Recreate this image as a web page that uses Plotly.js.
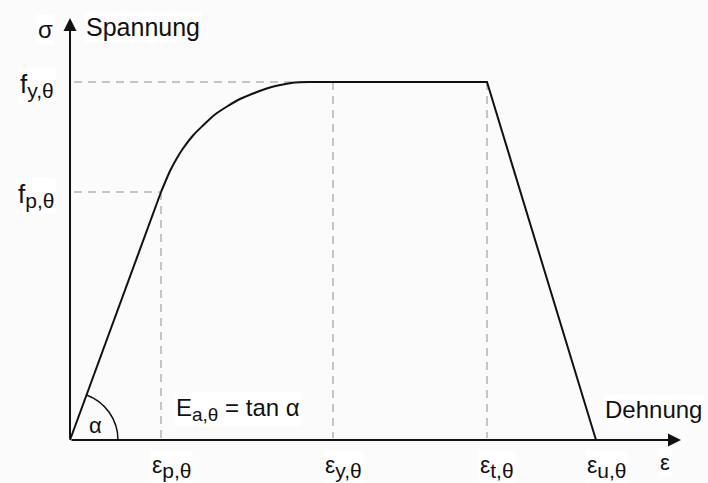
<!DOCTYPE html>
<html>
<head>
<meta charset="utf-8">
<script src="https://cdn.plot.ly/plotly-3.0.1.min.js"></script>
<style>html,body{margin:0;padding:0;background:#fbfbfb;}#chart{width:708px;height:483px;}</style>
</head>
<body>
<div id="chart"></div>
<script>
// ---- data (schematic units) ----
const strainNames  = ['εp', 'εy', 'εt', 'εu'];
const strainValues = [91, 263, 417, 526];          // ε_p,θ  ε_y,θ  ε_t,θ  ε_u,θ
const strainSubs   = ['p,θ', 'y,θ', 't,θ', 'u,θ'];
const stressValues = [248, 358];                   // f_p,θ  f_y,θ
const stressSubs   = ['p,θ', 'y,θ'];
// elliptic branch (between ε_p,θ and ε_y,θ)
const curveStrain = [91, 95, 100, 107, 113, 123, 133, 145, 157, 170, 187, 200, 213, 225, 240, 263];
const curveStress = [248, 257.5, 269, 282, 291.5, 304.5, 314.5, 325.5, 333.5, 341, 348, 352.5, 355.5, 357.5, 358, 358];
const axisMax = {strain: 611, stress: 422};
const axisNames = {stress: 'Spannung', strain: 'Dehnung', stressSym: 'σ', strainSym: 'ε'};
const modulusSym = 'E', modulusSub = 'a,θ', modulusRest = ' = tan α';

const [ep, ey, et, eu] = strainValues;
const [fp, fy] = stressValues;

const FONT = 'Liberation Sans, Arial, sans-serif';
const black = '#111111';
const dashCol = '#b4b4b4';

const sub = (s, px) => `<sub><span style="font-size:${px}px">${s}</span></sub>`;

const dashLine = {color: dashCol, width: 1.5, dash: '8px,6px'};
const solid = {color: black, width: 2};

const traces = [
  // dashed guides
  {x: [4, ey], y: [fy, fy], mode: 'lines', line: dashLine},
  {x: [4, ep], y: [fp, fp], mode: 'lines', line: dashLine},
  {x: [ep, ep], y: [fp, 2], mode: 'lines', line: dashLine},
  {x: [ey, ey], y: [fy, 2], mode: 'lines', line: dashLine},
  {x: [et, et], y: [fy, 2], mode: 'lines', line: dashLine},
  // linear elastic branch
  {x: [0, ep], y: [0, fp], mode: 'lines', line: solid},
  // elliptic branch
  {x: curveStrain, y: curveStress, mode: 'lines', line: Object.assign({shape: 'spline', smoothing: 0.8}, solid)},
  // plateau + descending branch
  {x: [ey, et, eu], y: [fy, fy, 0], mode: 'lines', line: solid}
];

// alpha arc (cubic Bezier approximation, radius r)
const r = 48;
const th = Math.atan2(fp, ep);
const k = 4 / 3 * Math.tan(th / 4);
const p3x = r * Math.cos(th), p3y = r * Math.sin(th);
const p2x = p3x + k * r * Math.sin(th), p2y = p3y - k * r * Math.cos(th);
const arcPath = `M${r},0 C${r},${k * r} ${p2x},${p2y} ${p3x},${p3y}`;

const txt = (size) => ({family: FONT, size: size, color: black});
const annotations = [];
// axes with arrows
annotations.push({x: 0, y: axisMax.stress, ax: 0, ay: 0, axref: 'x', ayref: 'y', xref: 'x', yref: 'y',
  showarrow: true, arrowhead: 2, arrowsize: 1.3, arrowwidth: 2, arrowcolor: black, text: ''});
annotations.push({x: axisMax.strain, y: 0, ax: 0, ay: 0, axref: 'x', ayref: 'y', xref: 'x', yref: 'y',
  showarrow: true, arrowhead: 2, arrowsize: 1.3, arrowwidth: 2, arrowcolor: black, text: ''});
// axis names
annotations.push({x: 0, y: axisMax.stress, xref: 'x', yref: 'y', text: axisNames.stressSym, showarrow: false,
  xanchor: 'center', yanchor: 'middle', xshift: -25, yshift: -11, font: txt(24), bgcolor: '#ffffff'});
annotations.push({x: 0, y: axisMax.stress, xref: 'x', yref: 'y', text: axisNames.stress, showarrow: false,
  xanchor: 'left', yanchor: 'middle', xshift: 14, yshift: -9, font: txt(25), bgcolor: '#ffffff'});
annotations.push({x: axisMax.strain, y: 0, xref: 'x', yref: 'y', text: axisNames.strain, showarrow: false,
  xanchor: 'right', yanchor: 'middle', xshift: 23, yshift: 31, font: txt(24), bgcolor: '#ffffff'});
annotations.push({x: axisMax.strain, y: 0, xref: 'x', yref: 'y', text: axisNames.strainSym, showarrow: false,
  xanchor: 'center', yanchor: 'middle', xshift: -16, yshift: -22, font: txt(22), bgcolor: '#ffffff'});
// stress tick labels
stressValues.forEach((v, i) => annotations.push({x: 0, y: v, xref: 'x', yref: 'y', text: 'f' + sub(stressSubs[i], 21),
  showarrow: false, xanchor: 'right', yanchor: 'middle', xshift: -14, yshift: -3, font: txt(26), bgcolor: '#ffffff'}));
// strain tick labels
strainValues.forEach((v, i) => annotations.push({x: v, y: 0, xref: 'x', yref: 'y', text: 'ε' + sub(strainSubs[i], 21),
  showarrow: false, xanchor: 'center', yanchor: 'top', xshift: 10, yshift: -10, font: txt(23), bgcolor: '#ffffff'}));
// modulus and alpha
annotations.push({x: ep, y: 0, xref: 'x', yref: 'y', text: modulusSym + sub(modulusSub, 19) + modulusRest, showarrow: false,
  xanchor: 'left', yanchor: 'middle', xshift: 13, yshift: 31, font: txt(24), bgcolor: '#ffffff'});
annotations.push({x: 0, y: 0, xref: 'x', yref: 'y', text: 'α', showarrow: false,
  xanchor: 'center', yanchor: 'middle', xshift: 25, yshift: 15, font: txt(22)});

const layout = {
  width: 708, height: 483,
  margin: {l: 0, r: 0, t: 0, b: 0},
  paper_bgcolor: '#fbfbfb', plot_bgcolor: '#fbfbfb',
  showlegend: false,
  xaxis: {range: [-70, 638], visible: false, fixedrange: true},
  yaxis: {range: [-43, 440], visible: false, fixedrange: true},
  shapes: [{type: 'path', xref: 'x', yref: 'y', path: arcPath, line: {color: black, width: 1.5}}],
  annotations: annotations
};

Plotly.newPlot('chart', traces, layout, {displayModeBar: false, staticPlot: true});
</script>
</body>
</html>
